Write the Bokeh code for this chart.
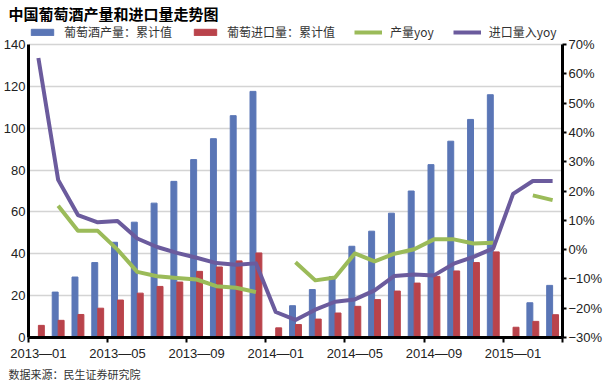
from bokeh.plotting import figure
from bokeh.models import (Range1d, LinearAxis, FixedTicker, Legend, LegendItem,
                          ColumnDataSource, Title)
from bokeh.embed import file_html
from bokeh.resources import INLINE

NaN = float("nan")

# ---- data -------------------------------------------------------------
months = ["2013—01", "2013—02", "2013—03", "2013—04", "2013—05", "2013—06",
          "2013—07", "2013—08", "2013—09", "2013—10", "2013—11", "2013—12",
          "2014—01", "2014—02", "2014—03", "2014—04", "2014—05", "2014—06",
          "2014—07", "2014—08", "2014—09", "2014—10", "2014—11", "2014—12",
          "2015—01", "2015—02", "2015—03"]
# 葡萄酒产量：累计值 (left axis)
production = [NaN, 21.7, 28.9, 35.8, 45.5, 55.1, 64.2, 74.6, 85.0, 95.0, 106.0, 117.6,
              NaN, 15.2, 22.9, 29.0, 43.6, 50.8, 59.4, 70.0, 82.6, 93.8, 104.2, 116.0,
              NaN, 16.6, 24.9]
# 葡萄进口量：累计值 (left axis)
imports = [5.8, 8.2, 11.0, 14.0, 17.9, 21.2, 24.4, 26.5, 31.6, 33.7, 36.6, 40.4,
           4.6, 6.2, 8.8, 11.7, 14.9, 18.1, 22.2, 26.0, 29.2, 31.8, 35.8, 40.9,
           4.9, 7.7, 10.9]
# 产量yoy (%) (right axis)
prod_yoy = [NaN, 15.0, 6.4, 6.4, 0.0, -7.6, -9.1, -9.7, -10.2, -12.5, -13.0, -14.5,
            NaN, -4.3, -10.5, -9.5, -1.3, -4.0, -1.4, 0.1, 3.5, 3.5, 2.1, 2.3,
            NaN, 18.5, 16.9]
# 进口量入yoy (%) (right axis)
import_yoy = [65.4, 23.8, 11.8, 9.3, 9.8, 3.8, 0.9, -1.1, -2.8, -4.6, -5.2, -4.7,
              -21.3, -24.0, -20.5, -17.8, -17.0, -13.9, -9.0, -8.5, -8.8, -4.8, -2.5, 0.4,
              19.0, 23.4, 23.4]

left_ticks = [0, 20, 40, 60, 80, 100, 120, 140]
right_ticks = [-30, -20, -10, 0, 10, 20, 30, 40, 50, 60, 70]
right_tick_labels = ["−30%", "−20%", "−10%", "0%", "10%", "20%", "30%", "40%",
                     "50%", "60%", "70%"]
label_every = 4

title_text = "中国葡萄酒产量和进口量走势图"
legend_labels = ["葡萄酒产量：累计值", "葡萄进口量：累计值", "产量yoy", "进口量入yoy"]
source_text = "数据来源：民生证券研究院"

# ---- colours ----------------------------------------------------------
BLUE = "#5a76b6"
RED = "#b9434b"
GREEN = "#9bbb59"
PURPLE = "#6b5b9d"

FRAME_W = 534
DATA_H = 293          # height of the 0..140 region
LEGEND_H = 21         # room above it for the legend row
FRAME_H = DATA_H + LEGEND_H
L_MIN, L_MAX = left_ticks[0], left_ticks[-1]
R_MIN, R_MAX = right_ticks[0], right_ticks[-1]
L_TOP = L_MIN + (L_MAX - L_MIN) * FRAME_H / DATA_H
R_TOP = R_MIN + (R_MAX - R_MIN) * FRAME_H / DATA_H

n = len(months)
idx = list(range(n))

prod_src = ColumnDataSource(dict(
    x=[i - 0.15 for i in idx if production[i] == production[i]],
    top=[v for v in production if v == v]))
imp_src = ColumnDataSource(dict(x=[i + 0.15 for i in idx], top=imports))
line_src = ColumnDataSource(dict(x=idx, prod_yoy=prod_yoy, import_yoy=import_yoy))

p = figure(frame_width=FRAME_W, frame_height=FRAME_H, output_backend="svg",
           toolbar_location=None, title=None,
           x_range=Range1d(-0.5, n - 0.5), y_range=Range1d(L_MIN, L_TOP),
           min_border=0)
p.extra_y_ranges = {"pct": Range1d(R_MIN, R_TOP)}
p.background_fill_color = "white"
p.border_fill_color = "white"
p.outline_line_color = None

r_prod = p.vbar(x="x", top="top", width=0.3, source=prod_src, color=BLUE)
r_imp = p.vbar(x="x", top="top", width=0.3, source=imp_src, color=RED)
r_py = p.line(x="x", y="prod_yoy", source=line_src, y_range_name="pct",
              line_color=GREEN, line_width=4, line_join="round")
r_iy = p.line(x="x", y="import_yoy", source=line_src, y_range_name="pct",
              line_color=PURPLE, line_width=4, line_join="round")

# grid
p.xgrid.visible = False
p.ygrid.ticker = FixedTicker(ticks=left_ticks[1:])
p.ygrid.grid_line_color = "#d4d4d4"
p.ygrid.grid_line_width = 1.5

AX_FONT = "Liberation Sans"

# x axis
xa = p.xaxis[0]
major = [i for i in idx if i % label_every == 0]
xa.ticker = FixedTicker(ticks=major, minor_ticks=[i - 0.5 for i in major] + [n - 0.5])
xa.major_label_overrides = {i: months[i] for i in major}
xa.axis_line_width = 3
xa.axis_line_color = "black"
xa.major_tick_line_color = None
xa.major_tick_out = 0
xa.major_tick_in = 0
xa.minor_tick_line_color = "black"
xa.minor_tick_line_width = 2
xa.minor_tick_out = 5
xa.minor_tick_in = 0
xa.major_label_text_font = AX_FONT
xa.major_label_text_font_size = "13px"
xa.major_label_text_color = "#222222"
xa.major_label_standoff = 3

# left axis
ya = p.yaxis[0]
ya.ticker = FixedTicker(ticks=left_ticks)
ya.bounds = (L_MIN, L_MAX)
ya.axis_line_width = 3
ya.axis_line_color = "black"
ya.major_tick_line_color = None
ya.minor_tick_line_color = None
ya.major_tick_out = 0
ya.major_tick_in = 0
ya.major_label_text_font = AX_FONT
ya.major_label_text_font_size = "13px"
ya.major_label_text_color = "#222222"
ya.major_label_standoff = 3

# right axis
ra = LinearAxis(y_range_name="pct", ticker=FixedTicker(ticks=right_ticks),
                bounds=(R_MIN, R_MAX))
ra.major_label_overrides = {t: l for t, l in zip(right_ticks, right_tick_labels)}
ra.axis_line_width = 3
ra.axis_line_color = "black"
ra.major_tick_line_color = "black"
ra.major_tick_line_width = 2
ra.major_tick_out = 4
ra.major_tick_in = 0
ra.minor_tick_line_color = None
ra.major_label_text_font = AX_FONT
ra.major_label_text_font_size = "13px"
ra.major_label_text_color = "#222222"
ra.major_label_standoff = 2
p.add_layout(ra, "right")

# legend (top strip of the frame, above the 140 line)
legend = Legend(items=[LegendItem(label=legend_labels[0], renderers=[r_prod]),
                       LegendItem(label=legend_labels[1], renderers=[r_imp]),
                       LegendItem(label=legend_labels[2], renderers=[r_py]),
                       LegendItem(label=legend_labels[3], renderers=[r_iy])],
                orientation="horizontal", location="top_left",
                border_line_color=None, background_fill_alpha=0,
                label_text_font="Noto Sans CJK SC", label_text_font_size="12px",
                label_text_color="#333333", glyph_width=28, glyph_height=8,
                label_standoff=8, spacing=19, padding=2, margin=0)
p.add_layout(legend)

# title
p.add_layout(Title(text=title_text, align="left", offset=-20,
                   text_font="Noto Sans CJK SC", text_font_size="15px",
                   text_font_style="bold", text_color="black", standoff=0), "above")

# source note
p.add_layout(Title(text=source_text, align="left", offset=-20,
                   text_font="Noto Sans CJK SC", text_font_size="11px",
                   text_font_style="normal", text_color="#333333", standoff=0), "below")

open("out.html", "w").write(file_html(p, INLINE))
